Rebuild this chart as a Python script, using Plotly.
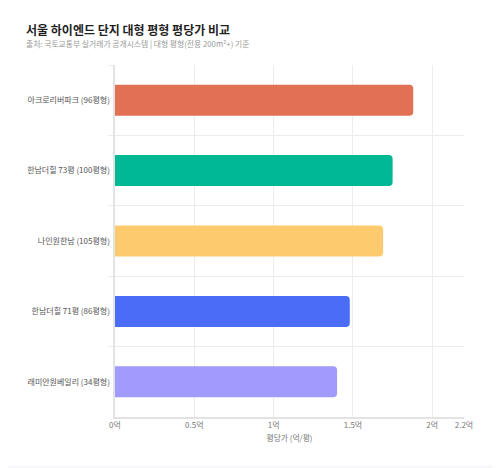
import plotly.graph_objects as go

categories = ["아크로리버파크 (96평형)", "한남더힐 73평 (100평형)", "나인원한남 (105평형)",
              "한남더힐 71평 (86평형)", "래미안원베일리 (34평형)"]
values = [1.88, 1.75, 1.69, 1.48, 1.40]
colors = ["#E17055", "#00B894", "#FDCB6E", "#4A6CF7", "#A29BFE"]
tick_vals = [0, 0.5, 1, 1.5, 2, 2.2]
tick_text = ["0억", "0.5억", "1억", "1.5억", "2억", "2.2억"]

OFF = 8  # default page body margin
W, H = 500 - OFF, 468 - OFF
L, R, T, B = 115 - OFF, 464 - OFF, 65 - OFF, 417 - OFF
FONT = "Noto Sans CJK KR"

def px(x):
    return (x - OFF - L) / (R - L)

def py(y):
    return (B - (y - OFF)) / (B - T)

fig = go.Figure(go.Bar(
    y=categories, x=values, orientation="h",
    marker=dict(color=colors, line=dict(width=0), cornerradius=4),
    hoverinfo="x+y",
))

# card background (page coords)
x0, x1, y0, y1, r = 0, 498, 0, 466, 14
rx, ry = r / (R - L), r / (B - T)
path = (f"M {px(x0)+rx},{py(y0)} L {px(x1)-rx},{py(y0)} Q {px(x1)},{py(y0)} {px(x1)},{py(y0)-ry} "
        f"L {px(x1)},{py(y1)+ry} Q {px(x1)},{py(y1)} {px(x1)-rx},{py(y1)} "
        f"L {px(x0)+rx},{py(y1)} Q {px(x0)},{py(y1)} {px(x0)},{py(y1)+ry} "
        f"L {px(x0)},{py(y0)-ry} Q {px(x0)},{py(y0)} {px(x0)+rx},{py(y0)} Z")
fig.add_shape(type="path", path=path, xref="paper", yref="paper",
              fillcolor="white", line=dict(width=0), layer="below")

fig.add_annotation(text="<b>서울 하이엔드 단지 대형 평형 평당가 비교</b>", xref="paper", yref="paper",
                   x=px(24), y=py(29.5), xanchor="left", yanchor="middle", showarrow=False,
                   font=dict(family=FONT, size=12, color="#1f1f1f"))
fig.add_annotation(text="출처: 국토교통부 실거래가 공개시스템 | 대형 평형(전용 200m²+) 기준", xref="paper", yref="paper",
                   x=px(24), y=py(43.5), xanchor="left", yanchor="middle", showarrow=False,
                   font=dict(family=FONT, size=7.8, color="#999999"))

fig.update_layout(
    width=W, height=H,
    margin=dict(l=L, r=W - R, t=T, b=H - B, autoexpand=False),
    paper_bgcolor="#f7f7f9", plot_bgcolor="rgba(0,0,0,0)",
    font=dict(family=FONT, color="#666666"),
    bargap=0.56, showlegend=False,
    xaxis=dict(range=[0, 2.2], tickvals=tick_vals, ticktext=tick_text,
               showgrid=True, gridcolor="#ececec", gridwidth=1,
               zeroline=False, showline=True, linecolor="#e3e3e3", linewidth=1.5,
               ticks="", tickfont=dict(size=8, color="#777777"), automargin=False,
               title=dict(text="평당가 (억/평)", font=dict(size=7.8, color="#777777"), standoff=6),
               fixedrange=True),
    yaxis=dict(autorange="reversed", categoryorder="array", categoryarray=categories,
               tickson="boundaries", ticks="outside", ticklen=5, tickcolor="#ececec",
               showgrid=True, gridcolor="#ececec", gridwidth=1,
               showline=True, linecolor="#e3e3e3", linewidth=1.5, automargin=False,
               tickfont=dict(size=8, color="#555555"), ticksuffix=" ",
               fixedrange=True),
)

fig.write_html("out.html")
